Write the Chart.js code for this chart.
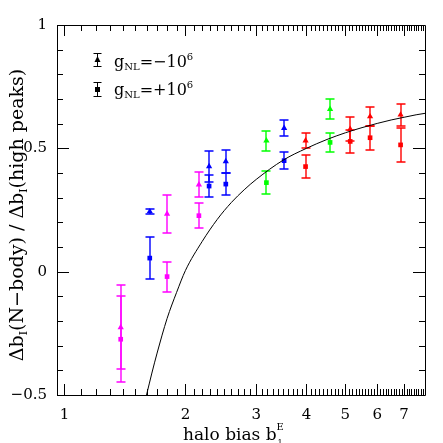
<!DOCTYPE html>
<html><head><meta charset="utf-8">
<script src="https://cdn.jsdelivr.net/npm/chart.js@4.4.0/dist/chart.umd.min.js"></script>
<style>html,body{margin:0;padding:0;background:#fff}canvas{display:block}</style>
</head><body>
<canvas id="c" width="443" height="443"></canvas>
<script>
// ---- tick labels ----
const xTickLabels = [1, 2, 3, 4, 5, 6, 7];
const yTickLabels = [-0.5, 0, 0.5, 1];

// ---- data: x = halo bias, tri = g_NL=-1e6, sq = g_NL=+1e6 ----
const magentaX = [1.38, 1.80, 2.16];
const magentaTri = [-0.226, 0.234, 0.353];
const magentaTriErr = [0.170, 0.077, 0.052];
const magentaSq = [-0.274, -0.020, 0.227];
const magentaSqErr = [0.175, 0.061, 0.050];

const blueX = [1.63, 2.29, 2.52, 3.52];
const blueTri = [0.244, 0.427, 0.447, 0.582];
const blueTriErr = [0.010, 0.062, 0.047, 0.033];
const blueSq = [0.055, 0.347, 0.355, 0.450];
const blueSqErr = [0.085, 0.045, 0.045, 0.035];

const greenX = [3.18, 4.58];
const greenTri = [0.531, 0.659];
const greenTriErr = [0.040, 0.040];
const greenSq = [0.361, 0.524];
const greenSqErr = [0.046, 0.037];

const redX = [3.98, 5.14, 5.76, 6.86];
const redTri = [0.531, 0.578, 0.629, 0.636];
const redTriErr = [0.030, 0.048, 0.037, 0.045];
const redSq = [0.426, 0.528, 0.543, 0.514];
const redSqErr = [0.045, 0.047, 0.048, 0.070];

// ---- theory curve ----
const curveX = [1.60, 1.65, 1.7, 1.8, 1.9, 2.0, 2.2, 2.4, 2.6, 2.8, 3.0, 3.5, 4.0, 4.5, 5.0, 5.5, 6.0, 6.5, 7.0, 7.5, 7.9];
const curveY = [-0.50, -0.411, -0.33, -0.19, -0.085, 0.005, 0.122, 0.212, 0.280, 0.332, 0.374, 0.452, 0.500, 0.536, 0.563, 0.584, 0.601, 0.615, 0.626, 0.636, 0.642];

const FONT = 'DejaVu Serif';

function pts(xs, ys) { return xs.map((v, i) => ({x: v, y: ys[i]})); }
function markerSet(xs, ys, errs, color, style, r) {
  return {data: pts(xs, ys), errors: errs, errColor: color, showLine: false, pointStyle: style,
    pointRadius: r, backgroundColor: color, borderColor: color, borderWidth: 0};
}

const errPlugin = {
  id: 'errbars',
  beforeDatasetsDraw(chart) {
    const {ctx, scales: {x, y}} = chart;
    chart.data.datasets.forEach(ds => {
      if (!ds.errors) return;
      ds.data.forEach((p, i) => {
        const px = Math.round(x.getPixelForValue(p.x));
        const y1 = Math.round(y.getPixelForValue(p.y + ds.errors[i]));
        const y2 = Math.round(y.getPixelForValue(p.y - ds.errors[i]));
        ctx.save();
        ctx.lineWidth = 1.4;
        ctx.strokeStyle = ds.errColor;
        ctx.beginPath();
        ctx.moveTo(px, y1); ctx.lineTo(px, y2);
        ctx.moveTo(px - 4.5, y1); ctx.lineTo(px + 4.5, y1);
        ctx.moveTo(px - 4.5, y2); ctx.lineTo(px + 4.5, y2);
        ctx.stroke();
        ctx.restore();
      });
    });
  }
};

function richText(ctx, x, y, parts) {
  parts.forEach(p => {
    ctx.font = p.size + 'px "' + FONT + '"';
    ctx.fillText(p.t, x, y + (p.dy || 0));
    x += ctx.measureText(p.t).width;
  });
  return x;
}
function richWidth(ctx, parts) {
  let w = 0;
  parts.forEach(p => { ctx.font = p.size + 'px "' + FONT + '"'; w += ctx.measureText(p.t).width; });
  return w;
}

const framePlugin = {
  id: 'frame',
  afterDraw(chart) {
    const {ctx, chartArea: a, scales: {x, y}} = chart;
    ctx.save();
    ctx.strokeStyle = '#000';
    ctx.lineWidth = 1;
    ctx.beginPath();
    ctx.rect(a.left + 0.5, a.top + 0.5, a.right - a.left, a.bottom - a.top);
    ctx.stroke();
    // x ticks (minor every 0.1, major at integers) on bottom and top
    ctx.beginPath();
    for (let k = 10; k <= 78; k++) {
      const v = k / 10;
      const len = (k % 10 === 0) ? 11 : 6;
      const px = Math.round(x.getPixelForValue(v)) + 0.5;
      ctx.moveTo(px, a.bottom); ctx.lineTo(px, a.bottom - len);
      ctx.moveTo(px, a.top); ctx.lineTo(px, a.top + len);
    }
    // y ticks (minor every 0.1, major every 0.5) on left and right
    for (let k = -5; k <= 10; k++) {
      const v = k / 10;
      const len = (k % 5 === 0) ? 12 : 6;
      const py = Math.round(y.getPixelForValue(v)) + 0.5;
      ctx.moveTo(a.left, py); ctx.lineTo(a.left + len, py);
      ctx.moveTo(a.right, py); ctx.lineTo(a.right - len, py);
    }
    ctx.stroke();

    // legend
    ctx.fillStyle = '#000';
    const lx = 97.5;
    ctx.beginPath();
    ctx.moveTo(lx, 53.5); ctx.lineTo(lx, 66.5);
    ctx.moveTo(lx - 4, 53.5); ctx.lineTo(lx + 4, 53.5);
    ctx.moveTo(lx - 4, 66.5); ctx.lineTo(lx + 4, 66.5);
    ctx.moveTo(lx, 82.5); ctx.lineTo(lx, 96.5);
    ctx.moveTo(lx - 4, 82.5); ctx.lineTo(lx + 4, 82.5);
    ctx.moveTo(lx - 4, 96.5); ctx.lineTo(lx + 4, 96.5);
    ctx.stroke();
    ctx.beginPath();
    ctx.moveTo(lx, 56); ctx.lineTo(lx + 3, 62); ctx.lineTo(lx - 3, 62); ctx.closePath();
    ctx.fill();
    ctx.fillRect(lx - 2.5, 87, 5, 5);
    ctx.textBaseline = 'alphabetic';
    ctx.textAlign = 'left';
    richText(ctx, 114, 67, [{t: 'g', size: 16}, {t: 'NL', size: 10, dy: 3}, {t: '=−10', size: 16}, {t: '6', size: 10, dy: -7}]);
    richText(ctx, 114, 95, [{t: 'g', size: 16}, {t: 'NL', size: 10, dy: 3}, {t: '=+10', size: 16}, {t: '6', size: 10, dy: -7}]);

    // x title
    const xt = [{t: 'halo bias b', size: 17}];
    const xe = richText(ctx, 183, 440, xt);
    richText(ctx, xe, 430, [{t: 'E', size: 10}]);
    richText(ctx, xe + 1, 445, [{t: '1', size: 8}]);

    // y title (rotated)
    const yt = [{t: 'Δb', size: 19}, {t: 'I', size: 11, dy: 4}, {t: '(N−body) / Δb', size: 19}, {t: 'I', size: 11, dy: 4}, {t: '(high peaks)', size: 19}];
    const yw = richWidth(ctx, yt);
    ctx.translate(23, 215);
    ctx.rotate(-Math.PI / 2);
    richText(ctx, -yw / 2, 0, yt);
    ctx.restore();
  }
};

new Chart(document.getElementById('c'), {
  type: 'scatter',
  data: {
    datasets: [
      {data: pts(curveX, curveY), showLine: true, pointRadius: 0, borderColor: '#000',
        borderWidth: 1, cubicInterpolationMode: 'monotone', fill: false},
      markerSet(magentaX, magentaTri, magentaTriErr, '#ff00ff', 'triangle', 3.6),
      markerSet(magentaX, magentaSq, magentaSqErr, '#ff00ff', 'rect', 3.3),
      markerSet(blueX, blueTri, blueTriErr, '#0000ff', 'triangle', 3.6),
      markerSet(blueX, blueSq, blueSqErr, '#0000ff', 'rect', 3.3),
      markerSet(greenX, greenTri, greenTriErr, '#00ff00', 'triangle', 3.6),
      markerSet(greenX, greenSq, greenSqErr, '#00ff00', 'rect', 3.3),
      markerSet(redX, redTri, redTriErr, '#ff0000', 'triangle', 3.6),
      markerSet(redX, redSq, redSqErr, '#ff0000', 'rect', 3.3)
    ]
  },
  options: {
    responsive: false,
    devicePixelRatio: 1,
    animation: false,
    layout: {padding: {top: 25, right: 18, left: 0, bottom: 0}},
    plugins: {legend: {display: false}, tooltip: {enabled: false}},
    scales: {
      x: {
        type: 'logarithmic', min: 0.958, max: 7.89,
        afterBuildTicks: s => { s.ticks = xTickLabels.map(v => ({value: v})); },
        afterFit: s => { s.height = 48; },
        grid: {display: false, drawTicks: false},
        border: {display: false},
        ticks: {autoSkip: false, maxRotation: 0, padding: 11, color: '#000',
          font: {family: FONT, size: 15}, callback: v => String(v)}
      },
      y: {
        type: 'linear', min: -0.5, max: 1,
        afterBuildTicks: s => { s.ticks = yTickLabels.map(v => ({value: v})); },
        afterFit: s => { s.width = 57; },
        grid: {display: false, drawTicks: false},
        border: {display: false},
        ticks: {padding: 10, color: '#000', font: {family: FONT, size: 15},
          callback: v => (v < 0 ? '−' + Math.abs(v) : String(v))}
      }
    }
  },
  plugins: [errPlugin, framePlugin]
});
</script>
</body></html>
